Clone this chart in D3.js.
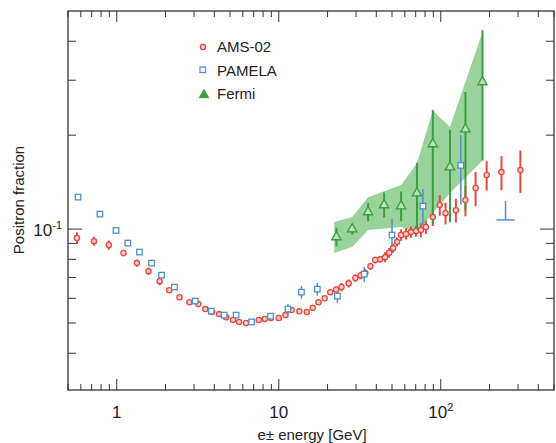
<!DOCTYPE html>
<html>
<head>
<meta charset="utf-8">
<script src="https://cdn.jsdelivr.net/npm/d3@7"></script>
<style>
body { margin: 0; background: #fff; }
text { font-family: "Liberation Sans", Arial, sans-serif; fill: #222; }
</style>
</head>
<body>
<div id="chart"></div>
<script>
var width = 556, height = 443;
var margin = {left: 68, right: 2, top: 11, bottom: 53};

// ------ data ------
var amsE   = [0.568,0.723,0.893,1.10,1.33,1.57,1.84,2.11,2.44,2.81,3.19,3.52,3.88,4.28,4.73,5.22,5.69,6.28,6.83,7.53,8.2,8.94,
              10,11,12.0,13.4,14.9,16.2,17.6,19.2,20.8,22.6,24.4,27,29.7,32,34.2,36.8,39.4,42.2,45.3,48,50.8,53.7,56.9,61,65.5,70.3,75.4,80.9,89.3,98.6,107,124,142,164,192,237,310];
var amsF   = [0.0936,0.0915,0.0889,0.0838,0.0778,0.0733,0.0681,0.0637,0.0605,0.0583,0.0575,0.0554,0.0542,0.0534,0.0522,0.0511,0.0504,0.0500,0.0504,0.0511,0.0515,0.0519,
              0.0519,0.0530,0.0550,0.0545,0.0542,0.0560,0.0583,0.0600,0.0628,0.0640,0.0652,0.0670,0.0697,0.0710,0.0723,0.0760,0.0796,0.0800,0.0813,0.0840,0.0869,0.0910,0.0957,0.0965,0.0978,0.0985,0.0993,0.1015,0.1093,0.1194,0.1125,0.1150,0.1239,0.1354,0.1490,0.1523,0.1546];
var amsErr = [0.004,0.003,0.003,0.002,0.002,0.002,0.002,0.001,0.001,0.001,0.001,0.001,0.001,0.001,0.001,0.001,0.001,0.001,0.001,0.001,0.001,0.001,
              0.001,0.001,0.001,0.001,0.001,0.001,0.001,0.001,0.001,0.001,0.002,0.002,0.002,0.002,0.002,0.002,0.002,0.002,0.003,0.003,0.003,0.003,0.004,0.004,0.004,0.004,0.005,0.005,0.007,0.009,0.009,0.010,0.014,0.017,0.016,0.019,0.024];

var pamE   = [0.577,0.787,0.99,1.17,1.38,1.64,1.89,2.27,3.05,3.83,4.6,5.45,6.8,8.9,11.4,13.8,17.3,23,33.7,50,77.6,133];
var pamF   = [0.1266,0.1117,0.099,0.0902,0.0844,0.0778,0.0712,0.0652,0.0588,0.0546,0.053,0.053,0.0504,0.0526,0.0554,0.0628,0.0642,0.061,0.0717,0.0957,0.1185,0.160];
var pamErr = [0.001,0.001,0.001,0.001,0.001,0.001,0.001,0.001,0.001,0.001,0.001,0.001,0.001,0.001,0.002,0.003,0.003,0.003,0.004,0.012,0.016,0.04];
var pamLimitE = 251, pamLimitF = 0.107, pamLimitTop = 0.123;

var fermiE  = [22.7,28.4,35.6,44.7,56.9,71.3,89.3,114,142,181];
var fermiF  = [0.0943,0.100,0.1134,0.1194,0.1185,0.1304,0.1873,0.158,0.209,0.296];
var fermiLo = [0.088,0.096,0.106,0.109,0.106,0.099,0.1045,0.105,0.115,0.166];
var fermiHi = [0.101,0.104,0.121,0.131,0.132,0.163,0.241,0.208,0.275,0.434];
var bandE   = [22,28.4,35.6,56.9,71.3,89.3,114,181];
var bandHi  = [0.1053,0.1093,0.1266,0.1384,0.1627,0.240,0.2123,0.428];
var bandLo  = [0.0838,0.0876,0.0993,0.1015,0.0971,0.1126,0.1304,0.166];

var xTickLabels = [[1,"1"],[10,"10"],[100,"10²"]];
var legendNames = ["AMS-02","PAMELA","Fermi"];

var red = "#e8473c", blue = "#4f8fcf", green = "#3a9d3e";

var svg = d3.select("#chart").append("svg").attr("width", width).attr("height", height);
var x = d3.scaleLog().domain([0.5, 500]).range([margin.left, width - margin.right]);
var y = d3.scaleLog().domain([0.0305, 0.5]).range([height - margin.bottom, margin.top]);
var x0 = margin.left, x1 = width - margin.right, y0 = height - margin.bottom, y1 = margin.top;

// band
var band = bandE.map(function(e,i){ return {e:e, lo:bandLo[i], hi:bandHi[i]}; });
svg.append("path").datum(band)
  .attr("d", d3.area().x(function(d){return x(d.e);}).y0(function(d){return y(d.lo);}).y1(function(d){return y(d.hi);}))
  .attr("fill", "#6dbf70").attr("opacity", 0.7);

// frame + ticks
var g = svg.append("g").attr("stroke", "#333").attr("fill", "none");
g.append("rect").attr("x", x0).attr("y", y1).attr("width", x1 - x0).attr("height", y0 - y1).attr("stroke-width", 1.3);
var xt = [];
for (var d = 0.1; d < 1000; d *= 10) for (var k = 1; k < 10; k++) { var v = d*k; if (v >= 0.5 && v <= 500) xt.push(v); }
xt.forEach(function(v){
  var L = (Math.abs(Math.log10(v) % 1) < 1e-6) ? 11 : 6;
  g.append("line").attr("x1", x(v)).attr("x2", x(v)).attr("y1", y0).attr("y2", y0 - L);
  g.append("line").attr("x1", x(v)).attr("x2", x(v)).attr("y1", y1).attr("y2", y1 + L);
});
var yt = [0.04,0.05,0.06,0.07,0.08,0.09,0.1,0.2,0.3,0.4];
yt.forEach(function(v){
  var L = v === 0.1 ? 14 : 8;
  g.append("line").attr("x1", x0).attr("x2", x0 + L).attr("y1", y(v)).attr("y2", y(v));
  g.append("line").attr("x1", x1).attr("x2", x1 - L).attr("y1", y(v)).attr("y2", y(v));
});

// labels
xTickLabels.forEach(function(t){
  var tx = svg.append("text").attr("x", x(t[0])).attr("y", 418).attr("text-anchor", "middle").attr("font-size", 17);
  if (t[0] === 100) { tx.text("10"); tx.append("tspan").attr("dy", -7).attr("font-size", 11).text("2"); }
  else tx.text(t[1]);
});
var yl = svg.append("text").attr("x", 62).attr("y", 236).attr("text-anchor", "end").attr("font-size", 17).text("10");
yl.append("tspan").attr("dy", -7).attr("font-size", 11).text("-1");
svg.append("text").attr("transform", "translate(24,200) rotate(-90)").attr("text-anchor", "middle").attr("font-size", 15).text("Positron fraction");
svg.append("text").attr("x", 312).attr("y", 440).attr("text-anchor", "middle").attr("font-size", 15).text("e\u00b1 energy [GeV]");

// error bars
function errs(E, lo, hi, col, w) {
  svg.append("g").selectAll("line").data(E).join("line")
    .attr("x1", function(d){return x(d);}).attr("x2", function(d){return x(d);})
    .attr("y1", function(d,i){return y(lo[i]);}).attr("y2", function(d,i){return y(hi[i]);})
    .attr("stroke", col).attr("stroke-width", w);
}
errs(amsE, amsF.map(function(f,i){return f-amsErr[i];}), amsF.map(function(f,i){return f+amsErr[i];}), red, 2);
errs(pamE, pamF.map(function(f,i){return f-pamErr[i];}), pamF.map(function(f,i){return f+pamErr[i];}), blue, 1.5);
errs(fermiE, fermiLo, fermiHi, green, 2);

// PAMELA upper limit
svg.append("line").attr("x1", x(pamLimitE)).attr("x2", x(pamLimitE)).attr("y1", y(pamLimitF)).attr("y2", y(pamLimitTop)).attr("stroke", blue).attr("stroke-width", 1.5);
svg.append("line").attr("x1", x(pamLimitE) - 9).attr("x2", x(pamLimitE) + 9).attr("y1", y(pamLimitF)).attr("y2", y(pamLimitF)).attr("stroke", blue).attr("stroke-width", 1.5);

// markers
function circ(sel){ return sel.attr("r", 2.6).attr("fill", "#fbd0cc").attr("stroke", red).attr("stroke-width", 1.3); }
function sq(sel){ return sel.attr("width", 5.5).attr("height", 5.5).attr("fill", "#fff").attr("stroke", blue).attr("stroke-width", 1.3); }
var tri = d3.symbol().type(d3.symbolTriangle).size(38);
svg.append("g").selectAll("circle").data(amsE).join("circle").call(circ)
  .attr("cx", function(d){return x(d);}).attr("cy", function(d,i){return y(amsF[i]);});
svg.append("g").selectAll("rect").data(pamE).join("rect").call(sq)
  .attr("x", function(d){return x(d) - 2.75;}).attr("y", function(d,i){return y(pamF[i]) - 2.75;});
svg.append("g").selectAll("path").data(fermiE).join("path").attr("d", tri)
  .attr("transform", function(d,i){return "translate(" + x(d) + "," + y(fermiF[i]) + ")";})
  .attr("fill", "#b9e0b6").attr("stroke", green).attr("stroke-width", 1.3);

// legend
var lg = svg.append("g");
circ(lg.append("circle").attr("cx", 203).attr("cy", 47));
sq(lg.append("rect").attr("x", 200).attr("y", 67));
lg.append("path").attr("d", tri).attr("transform", "translate(204,95)").attr("fill", green).attr("stroke", green);
legendNames.forEach(function(n,i){
  lg.append("text").attr("x", 217).attr("y", 52 + i*23.5).attr("font-size", 15).text(n);
});
</script>
</body>
</html>
